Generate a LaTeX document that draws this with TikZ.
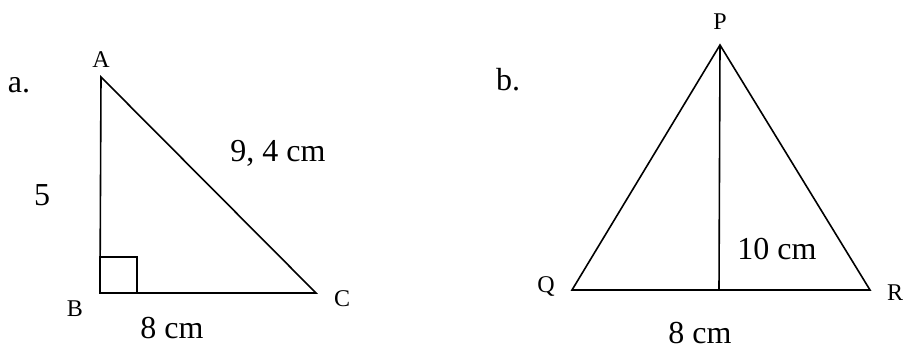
\documentclass[tikz,border=0pt]{standalone}
\usepackage{fontspec}
\setmainfont{Liberation Serif}
\begin{document}
\begin{tikzpicture}[x=1pt,y=-1pt,
  edge/.style={line width=1.6pt, line join=miter},
  big/.style={anchor=base, inner sep=0pt, font=\fontsize{32}{38}\selectfont},
  vlabel/.style={anchor=base, inner sep=0pt, font=\fontsize{24}{28}\selectfont}]
\useasboundingbox (0,0) rectangle (904,358);
% triangle a
\coordinate (A) at (101,77);
\coordinate (B) at (100,293);
\coordinate (C) at (316,293);
\draw[edge] (A) -- (B) -- (C) -- cycle;
\draw[line width=2pt] (B) rectangle ++(37,-36);
\node[big] (la) at (19,93) {a.};
\node[vlabel] (nA) at (101,68) {A};
\node[vlabel] (nB) at (75,316) {B};
\node[vlabel] (nC) at (342,306) {C};
\node[big] (l5) at (42,205) {5};
\node[big] (lAC) at (278,162) {9, 4 cm};
\node[big] (lBC) at (172,338) {8 cm};
% triangle b
\coordinate (P) at (720,45);
\coordinate (Q) at (572,290);
\coordinate (R) at (870,290);
\coordinate (H) at (719,290);
\draw[edge] (P) -- (Q) -- (R) -- cycle;
\draw[edge] (P) -- (H);
\node[big] (lb) at (508,91) {b.};
\node[vlabel] (nP) at (720,30) {P};
\node[vlabel] (nQ) at (546,292) {Q};
\node[vlabel] (nR) at (895,300) {R};
\node[big] (lPH) at (777,259) {10 cm};
\node[big] (lQR) at (700,343) {8 cm};
\end{tikzpicture}
\end{document}
